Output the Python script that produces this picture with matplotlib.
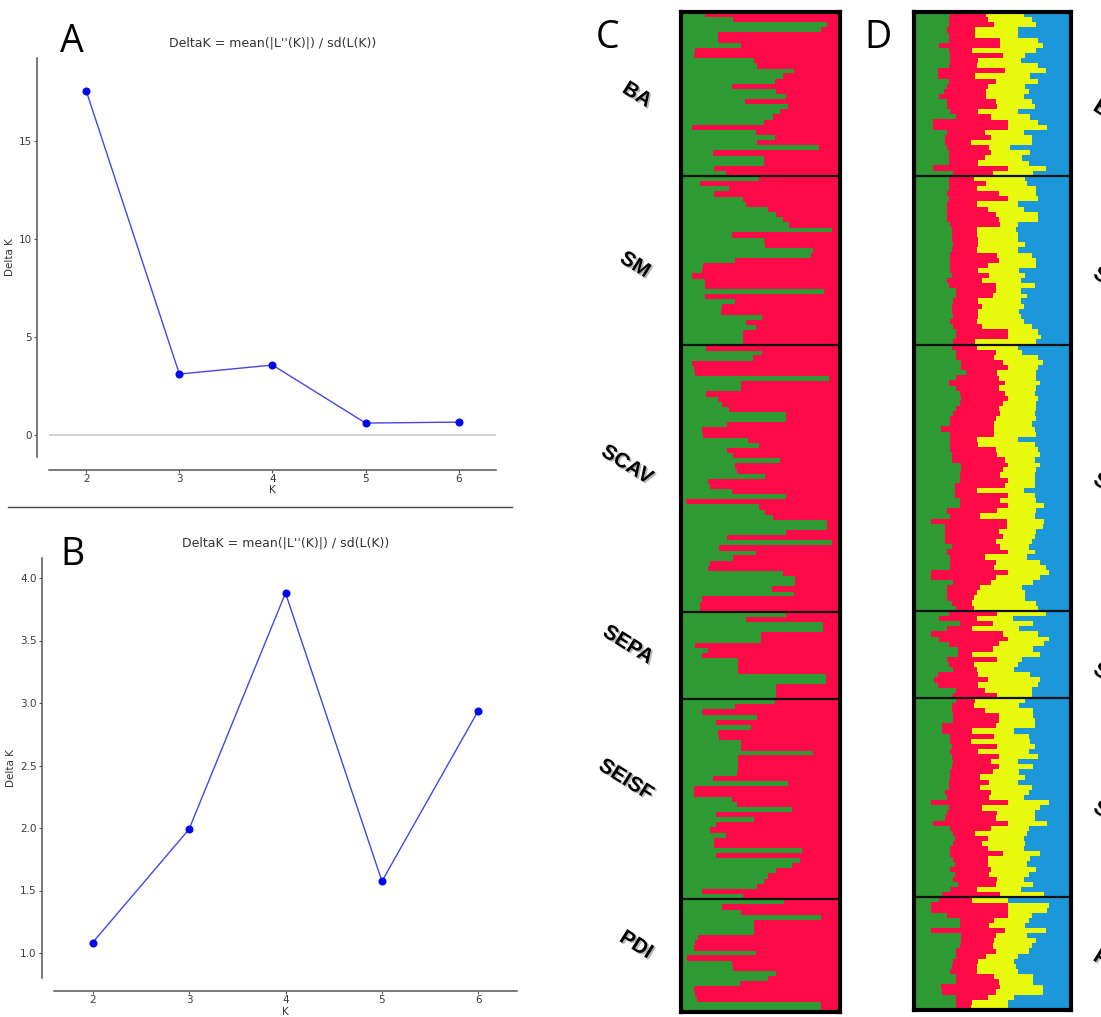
import numpy as np
import matplotlib
matplotlib.use("Agg")
import matplotlib.pyplot as plt
import matplotlib.patheffects as pe
from matplotlib.lines import Line2D

W, H = 1101, 1017

# --- Delta K panels -------------------------------------------------------
k_values = [2, 3, 4, 5, 6]
delta_k_a = [17.55, 3.11, 3.57, 0.61, 0.66]
delta_k_b = [1.083, 1.99, 3.88, 1.574, 2.94]
title_txt = "DeltaK = mean(|L''(K)|) / sd(L(K))"

# --- STRUCTURE bar plots (percent of ancestry per individual) -------------
pops = ["BA", "SM", "SCAV", "SEPA", "SEISF", "PDI"]
pop_sizes = [32, 33, 52, 17, 39, 22]

# K=2: green share (red = rest)
c_green = [
    # BA
    15, 33, 92, 88, 23, 23, 38, 9, 8, 46, 48, 71, 64, 59, 32, 60, 66, 40, 67, 62,
    58, 52, 7, 47, 59, 48, 87, 20, 52, 52, 21, 28,
    # SM
    49, 12, 30, 21, 39, 41, 55, 60, 64, 68, 95, 32, 52, 53, 83, 82, 34, 14, 13, 7,
    15, 15, 90, 15, 34, 26, 25, 51, 41, 47, 39, 39, 39,
    # SCAV
    16, 51, 45, 7, 8, 9, 93, 38, 38, 16, 23, 26, 30, 66, 66, 29, 13, 14, 42, 49,
    29, 33, 62, 34, 35, 53, 17, 18, 32, 66, 3, 49, 53, 58, 92, 92, 66, 29, 95, 24,
    47, 33, 18, 17, 64, 72, 72, 57, 71, 13, 12, 12,
    # SEPA
    66, 41, 89, 89, 50, 50, 9, 17, 13, 36, 36, 36, 91, 91, 60, 60, 60,
    # SEISF
    59, 34, 13, 48, 22, 44, 23, 24, 38, 38, 83, 36, 36, 36, 35, 20, 67, 8, 8, 32,
    35, 70, 22, 46, 22, 18, 28, 21, 21, 76, 22, 75, 70, 60, 55, 52, 48, 13, 39,
    # PDI
    65, 26, 38, 88, 46, 46, 46, 11, 9, 8, 47, 4, 32, 33, 60, 55, 37, 8, 9, 10,
    88, 88,
]

# K=4: green, red, yellow shares (blue = rest)
d_green = [
    # BA
    23, 22, 22, 21, 22, 22, 16, 22, 23, 23, 22, 15, 15, 22, 21, 19, 16, 21, 21, 23,
    27, 12, 12, 21, 20, 20, 21, 22, 22, 22, 12, 25,
    # SM
    22, 22, 22, 21, 22, 21, 21, 21, 21, 23, 24, 24, 24, 25, 24, 23, 23, 23, 23, 24,
    21, 22, 27, 27, 25, 24, 24, 25, 23, 25, 27, 27, 25,
    # SCAV
    24, 27, 27, 30, 30, 33, 27, 22, 27, 29, 30, 29, 27, 25, 23, 23, 17, 23, 23, 23,
    23, 24, 24, 30, 30, 29, 29, 26, 26, 26, 29, 29, 21, 23, 11, 20, 20, 20, 20, 24,
    21, 23, 23, 23, 11, 11, 25, 21, 21, 21, 24, 27,
    # SEPA
    22, 16, 29, 21, 11, 16, 22, 28, 28, 21, 22, 25, 15, 13, 15, 27, 25,
    # SEISF
    27, 24, 24, 25, 25, 18, 18, 23, 23, 24, 23, 24, 25, 24, 23, 23, 22, 22, 20, 21,
    11, 22, 21, 20, 12, 23, 25, 26, 25, 23, 23, 25, 26, 23, 26, 25, 28, 23, 18,
    # PDI
    16, 11, 11, 21, 29, 29, 11, 30, 30, 29, 27, 27, 25, 24, 23, 27, 27, 17, 18, 27,
    27, 27,
]
d_red = [
    # BA
    23, 25, 29, 18, 17, 33, 39, 15, 34, 18, 18, 43, 24, 30, 26, 27, 30, 31, 32, 18,
    22, 48, 48, 24, 29, 16, 27, 27, 23, 19, 48, 25,
    # SM
    16, 24, 18, 33, 38, 19, 26, 31, 33, 32, 16, 16, 17, 16, 16, 30, 31, 24, 18, 24,
    22, 30, 25, 23, 16, 19, 17, 16, 17, 18, 33, 33, 14,
    # SCAV
    16, 25, 24, 27, 30, 20, 27, 36, 27, 29, 30, 28, 27, 30, 29, 28, 34, 28, 17, 18,
    29, 29, 34, 30, 27, 26, 31, 32, 14, 34, 26, 31, 32, 19, 48, 39, 34, 37, 32, 31,
    39, 22, 29, 28, 49, 41, 24, 21, 19, 17, 13, 11,
    # SEPA
    31, 24, 21, 16, 46, 44, 32, 22, 9, 32, 16, 15, 26, 34, 26, 18, 28,
    # SEISF
    12, 14, 21, 29, 29, 34, 19, 28, 13, 29, 18, 30, 24, 30, 27, 19, 26, 20, 29, 27,
    49, 21, 32, 32, 48, 26, 14, 21, 18, 24, 34, 22, 21, 26, 22, 28, 24, 17, 37,
    # PDI
    21, 49, 49, 39, 22, 19, 47, 22, 21, 21, 25, 19, 16, 16, 17, 24, 27, 38, 34, 20,
    10, 9,
]
d_yellow = [
    # BA
    24, 28, 27, 27, 27, 24, 27, 41, 14, 27, 39, 26, 35, 27, 24, 27, 24, 23, 24, 25,
    25, 19, 25, 25, 26, 39, 13, 25, 24, 32, 24, 26,
    # SM
    33, 26, 38, 24, 19, 26, 23, 27, 25, 11, 25, 26, 25, 30, 26, 22, 24, 31, 26, 23,
    25, 25, 16, 22, 27, 27, 26, 27, 30, 32, 19, 21, 39,
    # SCAV
    26, 17, 28, 25, 19, 25, 24, 22, 24, 19, 19, 21, 24, 22, 26, 24, 26, 27, 26, 36,
    27, 27, 19, 20, 21, 22, 17, 19, 30, 17, 23, 23, 25, 35, 24, 23, 24, 20, 23, 18,
    17, 27, 28, 33, 26, 28, 27, 27, 31, 33, 41, 41,
    # SEPA
    31, 23, 26, 30, 22, 26, 29, 26, 43, 16, 28, 24, 33, 33, 38, 30, 22,
    # SEISF
    32, 29, 31, 22, 23, 25, 27, 22, 38, 24, 32, 25, 17, 22, 17, 29, 18, 33, 24, 22,
    26, 37, 24, 25, 25, 24, 33, 23, 28, 23, 23, 27, 25, 29, 25, 17, 24, 28, 28,
    # PDI
    23, 26, 25, 15, 22, 23, 26, 20, 27, 25, 21, 20, 23, 25, 26, 25, 22, 27, 30, 17,
    23, 24,
]

GREEN = "#2e9a33"
RED = "#ff0a48"
YELLOW = "#e8fb0c"
BLUE = "#1b97da"

fig = plt.figure(figsize=(W / 100, H / 100), dpi=100)
fig.patch.set_facecolor("white")


def px_axes(left, top, right, bottom):
    return fig.add_axes([left / W, 1 - bottom / H, (right - left) / W, (bottom - top) / H])


def delta_panel(ax, vals, ylim, yticks, yfmt, ylab_x, zero_line):
    if zero_line:
        ax.axhline(0, color="#d0d0d0", lw=1.4, zorder=1)
    ax.plot(k_values, vals, "-", color="#4646e6", lw=1.0, zorder=2)
    ax.plot(k_values, vals, "o", color="#0008e8", ms=4.8, mec="#0008e8", zorder=3)
    ax.set_xlim(1.6, 6.4)
    ax.set_ylim(*ylim)
    ax.set_xticks(k_values)
    ax.set_yticks(yticks)
    ax.set_yticklabels([yfmt.format(v) for v in yticks])
    for s in ("top", "right"):
        ax.spines[s].set_visible(False)
    for s in ("left", "bottom"):
        ax.spines[s].set_position(("outward", 9))
        ax.spines[s].set_color("#555555")
        ax.spines[s].set_linewidth(1.1)
    ax.tick_params(direction="out", length=2.5, width=0.8, color="#555555",
                   labelsize=7.5, labelcolor="#3a3a3a", pad=1.0)
    ax.set_title(title_txt, fontsize=9, color="#333333", pad=8)
    ax.set_xlabel("K", fontsize=7.5, color="#333333")
    ax.set_ylabel("Delta K", fontsize=7.5, color="#333333")
    ax.xaxis.set_label_coords(0.5, -0.07)
    ax.yaxis.set_label_coords(ylab_x, 0.5)


ax_a = px_axes(49, 58, 496, 457)
delta_panel(ax_a, delta_k_a, (-1.12, 19.23), [0, 5, 10, 15], "{:g}", -0.075, True)

ax_b = px_axes(54, 558, 517, 978)
delta_panel(ax_b, delta_k_b, (0.8, 4.16), [1.0, 1.5, 2.0, 2.5, 3.0, 3.5, 4.0],
            "{:.1f}", -0.082, False)

fig.add_artist(Line2D([8 / W, 512 / W], [1 - 507 / H, 1 - 507 / H],
                      color="#444444", lw=1.0))


def structure_panel(ax, shares, colors):
    n = len(shares[0])
    y = np.arange(n)
    left = np.zeros(n)
    for vals, col in zip(shares, colors):
        vals = np.asarray(vals, dtype=float)
        ax.barh(y, vals, left=left, height=1.05, color=col, lw=0)
        left = left + vals
    # last cluster fills the remainder
    ax.barh(y, 100 - left, left=left, height=1.05, color=colors[len(shares)], lw=0)
    for b in np.cumsum(pop_sizes)[:-1]:
        ax.axhline(b - 0.5, color="#111111", lw=1.6)
    ax.set_xlim(0, 100)
    ax.set_ylim(n - 0.5, -0.5)
    ax.set_xticks([])
    ax.set_yticks([])
    for s in ax.spines.values():
        s.set_linewidth(3.0)
        s.set_color("black")


ax_c = px_axes(681, 12, 840, 1012)
structure_panel(ax_c, [c_green], [GREEN, RED])

ax_d = px_axes(914, 12, 1071, 1010)
structure_panel(ax_d, [d_green, d_red, d_yellow], [GREEN, RED, YELLOW, BLUE])

# population labels
shadow = [pe.withSimplePatchShadow(offset=(1.2, -1.2), shadow_rgbFace="#888888", alpha=0.6)]
label_pos_c = [(637, 95), (635, 265), (627, 465), (628, 645), (626, 780), (636, 945)]
for name, (x, y) in zip(pops, label_pos_c):
    fig.text(x / W, 1 - y / H, name, fontsize=15, fontweight="bold",
             family="Liberation Sans", rotation=-32, ha="center", va="center",
             rotation_mode="anchor", path_effects=shadow)

# same labels beside panel D, mostly cut off by the right edge
label_pos_d = [(1095, 105), (1095, 272), (1095, 478), (1095, 668), (1095, 806), (1095, 955)]
for name, (x, y) in zip(pops, label_pos_d):
    fig.text(x / W, 1 - y / H, name, fontsize=15, fontweight="bold",
             family="Liberation Sans", rotation=-32, ha="left", va="center",
             rotation_mode="anchor", path_effects=shadow)

# panel letters
for letter, (x, y) in zip("ABCD", [(72, 42), (72, 555), (608, 38), (878, 38)]):
    fig.text(x / W, 1 - y / H, letter, fontsize=27, family="Open Sans",
             ha="center", va="center", color="black")

fig.savefig("out.png", dpi=100, facecolor="white")
